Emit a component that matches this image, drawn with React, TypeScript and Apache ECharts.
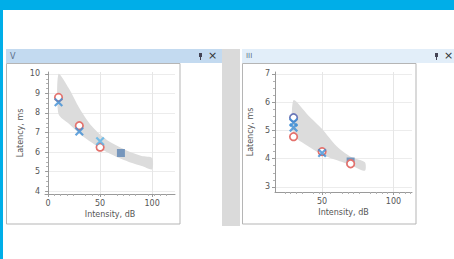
import React, { useEffect, useRef } from "react";
import * as echarts from "echarts";

// ---- data (left panel "V") ----
const leftBandX = [10, 20, 30, 40, 50, 60, 70, 80, 90, 100];
const leftBandUpper = [10.0, 9.25, 8.25, 7.45, 6.9, 6.5, 6.22, 5.98, 5.8, 5.7];
const leftBandLower = [7.95, 7.45, 6.95, 6.55, 6.2, 5.9, 5.66, 5.45, 5.28, 5.12];
const leftCircles = [[10, 8.8], [30, 7.35], [50, 6.25]];
const leftCrosses = [[10, 8.55], [30, 7.05]];
const leftLightCrosses = [[50, 6.55]];
const leftSquares = [[70, 5.95]];
const leftYTicks = [4, 5, 6, 7, 8, 9, 10];
const leftXTicks = [0, 50, 100];

// ---- data (right panel "III") ----
const rightBandX = [30, 40, 50, 60, 70, 80];
const rightBandUpper = [6.07, 5.55, 5.05, 4.45, 4.07, 3.87];
const rightBandLower = [4.85, 4.45, 4.14, 3.95, 3.77, 3.57];
const rightCircles = [[30, 4.78], [50, 4.25], [70, 3.82]];
const rightBlueCircles = [[30, 5.45]];
const rightCrosses = [[30, 5.28], [30, 5.1], [50, 4.2]];
const rightSquares = [[70, 3.9]];
const rightYTicks = [3, 4, 5, 6, 7];
const rightXTicks = [50, 100];

const RED = "#e4716c";
const BLUE = "#3f8fd6";
const LIGHTBLUE = "#5ab4ea";
const SQUARE = "#5c84b4";
const CROSS = "path://M0,0L10,10M10,0L0,10";
const FONT = "DejaVu Sans";

function bandSeries(idx: number, xs: number[], up: number[], lo: number[]) {
  return {
    type: "custom",
    xAxisIndex: idx,
    yAxisIndex: idx,
    data: [[xs[0], up[0]]],
    silent: true,
    z: 1,
    renderItem: (params: any, api: any) => {
      const pts: number[][] = [];
      for (let i = 0; i < xs.length; i++) pts.push(api.coord([xs[i], up[i]]));
      for (let i = xs.length - 1; i >= 0; i--) pts.push(api.coord([xs[i], lo[i]]));
      return {
        type: "polygon",
        shape: { points: pts, smooth: 0.25 },
        style: { fill: "#dcdcdc", stroke: "none" },
      };
    },
  };
}

function scatter(idx: number, data: number[][], kind: string, color: string) {
  const base: any = {
    type: "scatter",
    xAxisIndex: idx,
    yAxisIndex: idx,
    data,
    z: 3,
  };
  if (kind === "circle") {
    base.symbol = "circle";
    base.symbolSize = 7.5;
    base.itemStyle = { color: "#ffffff", borderColor: color, borderWidth: 1.7, opacity: 1 };
  } else if (kind === "cross") {
    base.symbol = CROSS;
    base.symbolSize = 7.5;
    base.itemStyle = { color: "transparent", borderColor: color, borderWidth: 2.2 };
  } else {
    base.symbol = "rect";
    base.symbolSize = 8;
    base.itemStyle = { color };
  }
  return base;
}

function xAxis(idx: number, min: number, max: number, ticks: number[]) {
  return {
    type: "value",
    gridIndex: idx,
    min,
    max,
    name: "Intensity, dB",
    nameLocation: "middle",
    nameGap: 16,
    nameTextStyle: { fontFamily: FONT, fontSize: 8, color: "#555" },
    axisLine: { show: true, lineStyle: { color: "#9a9a9a" } },
    axisTick: { show: true, customValues: ticks, length: 3, lineStyle: { color: "#9a9a9a" } },
    minorTick: { show: true, splitNumber: 5, length: 2, lineStyle: { color: "#b0b0b0" } },
    axisLabel: { customValues: ticks, fontFamily: FONT, fontSize: 8, color: "#555", margin: 5 },
    splitLine: { show: true, lineStyle: { color: "#e6e6e6" } },
  };
}

function yAxis(idx: number, min: number, max: number, ticks: number[]) {
  return {
    type: "value",
    gridIndex: idx,
    min,
    max,
    name: "Latency, ms",
    nameLocation: "middle",
    nameGap: 21,
    nameTextStyle: { fontFamily: FONT, fontSize: 8, color: "#555" },
    axisLine: { show: true, lineStyle: { color: "#9a9a9a" } },
    axisTick: { show: true, customValues: ticks, length: 3, lineStyle: { color: "#9a9a9a" } },
    minorTick: { show: true, splitNumber: 4, length: 2, lineStyle: { color: "#b0b0b0" } },
    axisLabel: { customValues: ticks, fontFamily: FONT, fontSize: 8, color: "#555", margin: 5 },
    splitLine: { show: true, lineStyle: { color: "#ececec" } },
  };
}

export default function App() {
  const ref = useRef<HTMLDivElement>(null);
  useEffect(() => {
    document.body.style.margin = "0";
    const chart = echarts.init(ref.current!, null, { renderer: "svg" });
    const pin = (x: number) => [
      { type: "rect", shape: { x: x, y: 53, width: 3, height: 4 }, style: { fill: "#445", stroke: "none" } },
      { type: "line", shape: { x1: x + 1.5, y1: 57, x2: x + 1.5, y2: 60 }, style: { stroke: "#445", lineWidth: 1 } },
    ];
    chart.setOption({
      animation: false,
      backgroundColor: "#ffffff",
      graphic: [
        { type: "rect", shape: { x: 0, y: 0, width: 454, height: 10 }, style: { fill: "#00aee8" }, z: 10 },
        { type: "rect", shape: { x: 0, y: 0, width: 3, height: 259 }, style: { fill: "#00aee8" }, z: 10 },
        { type: "rect", shape: { x: 222, y: 49, width: 18, height: 177 }, style: { fill: "#dadada" }, z: -1 },
        { type: "rect", shape: { x: 6, y: 49, width: 216, height: 14 }, style: { fill: "#c3daf0" }, z: -1 },
        { type: "rect", shape: { x: 242, y: 49, width: 212, height: 14 }, style: { fill: "#e2eef9" }, z: -1 },
        { type: "rect", shape: { x: 6.5, y: 63.5, width: 173.5, height: 160.5 }, style: { fill: "none", stroke: "#b5b5b5", lineWidth: 1 }, z: -1 },
        { type: "rect", shape: { x: 242.5, y: 63.5, width: 173.5, height: 160.5 }, style: { fill: "none", stroke: "#b5b5b5", lineWidth: 1 }, z: -1 },
        { type: "text", x: 10, y: 52, style: { text: "V", fill: "#5a6e88", font: "8px DejaVu Sans" } },
        { type: "text", x: 246, y: 52, style: { text: "III", fill: "#5a6e88", font: "7px DejaVu Sans" } },
        ...pin(199),
        ...pin(435),
        { type: "text", x: 208, y: 50, style: { text: "×", fill: "#333", font: "11px DejaVu Sans" } },
        { type: "text", x: 444, y: 50, style: { text: "×", fill: "#333", font: "11px DejaVu Sans" } },
      ],
      grid: [
        { left: 45, right: 279, top: 72, bottom: 65, containLabel: false },
        { left: 275, right: 42, top: 72, bottom: 67, containLabel: false },
      ],
      xAxis: [xAxis(0, -3, 122, leftXTicks), xAxis(1, 17, 113, rightXTicks)],
      yAxis: [yAxis(0, 3.85, 10.1, leftYTicks), yAxis(1, 2.82, 7.07, rightYTicks)],
      series: [
        bandSeries(0, leftBandX, leftBandUpper, leftBandLower),
        scatter(0, leftSquares, "square", SQUARE),
        scatter(0, leftCircles, "circle", RED),
        scatter(0, leftCrosses, "cross", BLUE),
        scatter(0, leftLightCrosses, "cross", LIGHTBLUE),
        bandSeries(1, rightBandX, rightBandUpper, rightBandLower),
        scatter(1, rightSquares, "square", SQUARE),
        scatter(1, rightCircles, "circle", RED),
        scatter(1, rightBlueCircles, "circle", "#6a78b8"),
        scatter(1, rightCrosses, "cross", BLUE),
      ],
    });
    return () => chart.dispose();
  }, []);
  return <div ref={ref} style={{ position: "fixed", left: 0, top: 0, width: 454, height: 259 }} />;
}
